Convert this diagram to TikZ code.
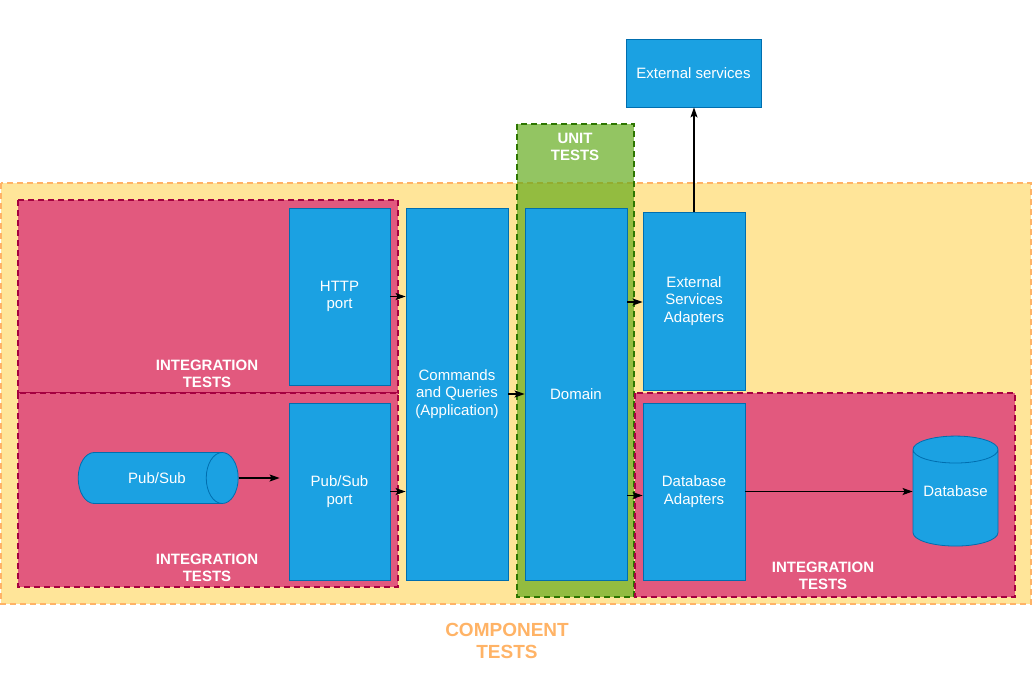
\documentclass[tikz,border=0pt]{standalone}
\usepackage{fontspec}
\setmainfont{Liberation Sans}
\usetikzlibrary{shapes.geometric,arrows.meta}
\definecolor{compfill}{HTML}{FFE599}
\definecolor{compline}{HTML}{FFB366}
\definecolor{unitfill}{HTML}{60A917}
\definecolor{unitline}{HTML}{2D7600}
\definecolor{intfill}{HTML}{E2597E}
\definecolor{intline}{HTML}{A50040}
\definecolor{blkfill}{HTML}{1BA1E2}
\definecolor{blkline}{HTML}{006EAF}
\begin{document}
\begin{tikzpicture}[x=1pt,y=-1pt,
  every node/.style={font=\fontsize{15}{17.5}\selectfont},
  blk/.style={draw=blkline,fill=blkfill,text=white,align=center,inner sep=0pt,line width=0.8pt},
  cyl/.style={blk,cylinder,shape border rotate=#1},
  area/.style={line width=1.4pt,dash pattern=on 6pt off 4pt},
  tag/.style={font=\fontsize{15}{17}\selectfont\bfseries,text=white,align=center},
  arr/.style={line width=1.2pt,-{Stealth[length=10pt,width=7pt,inset=2pt]}}]
\useasboundingbox (0,0) rectangle (1033,696);
% test scopes
\draw[area,draw=compline,fill=compfill] (1,183) rectangle (1031,604);
\draw[area,draw=unitline,fill=unitfill,fill opacity=0.68] (517,124) rectangle (634,597);
\foreach \xa/\ya/\xb/\yb in {18/200/398/393, 18/393/398/587, 635/393/1015/597}
  {\draw[area,draw=intline,fill=intfill] (\xa,\ya) rectangle (\xb,\yb);}
\node[tag] (itA) at (207,374) {INTEGRATION\\TESTS};
\node[tag] (itB) at (207,568) {INTEGRATION\\TESTS};
\node[tag] (itC) at (823,576) {INTEGRATION\\TESTS};
\node[tag] (unit) at (575,147) {UNIT\\TESTS};
\node[tag,text=compline,font=\fontsize{19}{22}\selectfont\bfseries] (comp) at (507,641) {COMPONENT\\TESTS};
% blocks
\node[blk,minimum width=101pt,minimum height=177pt] (http) at (339.5,296.5) {HTTP\\port};
\node[blk,minimum width=101pt,minimum height=177pt] (psport) at (339.5,491.5) {Pub/Sub\\port};
\node[blk,minimum width=102pt,minimum height=372pt] (cq) at (457,394) {Commands\\and Queries\\(Application)};
\node[blk,minimum width=102pt,minimum height=372pt] (dom) at (576,394) {Domain};
\node[blk,minimum width=102pt,minimum height=178pt] (extad) at (694,301) {External\\Services\\Adapters};
\node[blk,minimum width=102pt,minimum height=177pt] (dbad) at (694,491.5) {Database\\Adapters};
\node[blk,minimum width=135pt,minimum height=68pt] (extsrv) at (693.5,73) {External services};
\node[cyl=0,minimum width=51pt,minimum height=160pt,aspect=2.9] (pubsub) at (150,478) {\hspace*{14pt}Pub/Sub};
\node[cyl=90,minimum width=85pt,minimum height=110pt,aspect=0.42] (db) at (955.5,498) {\raisebox{14pt}{Database}};
% arrows
\draw[arr] (http.east) -- (http.east -| cq.west);
\draw[arr] (psport.east) -- (psport.east -| cq.west);
\draw[arr] (cq.east) -- (dom.west);
\draw[arr] ([yshift=-1pt]dom.east |- extad.west) -- ([yshift=-1pt]extad.west);
\draw[arr] ([yshift=-4pt]dom.east |- dbad.west) -- ([yshift=-4pt]dbad.west);
\draw[arr,shorten >=9pt] (pubsub.east) -- (pubsub.east -| psport.west);
\draw[arr] (extad.north) -- (extad.north |- extsrv.south);
\draw[arr] (dbad.east) -- (dbad.east -| db.west);
\end{tikzpicture}
\end{document}
